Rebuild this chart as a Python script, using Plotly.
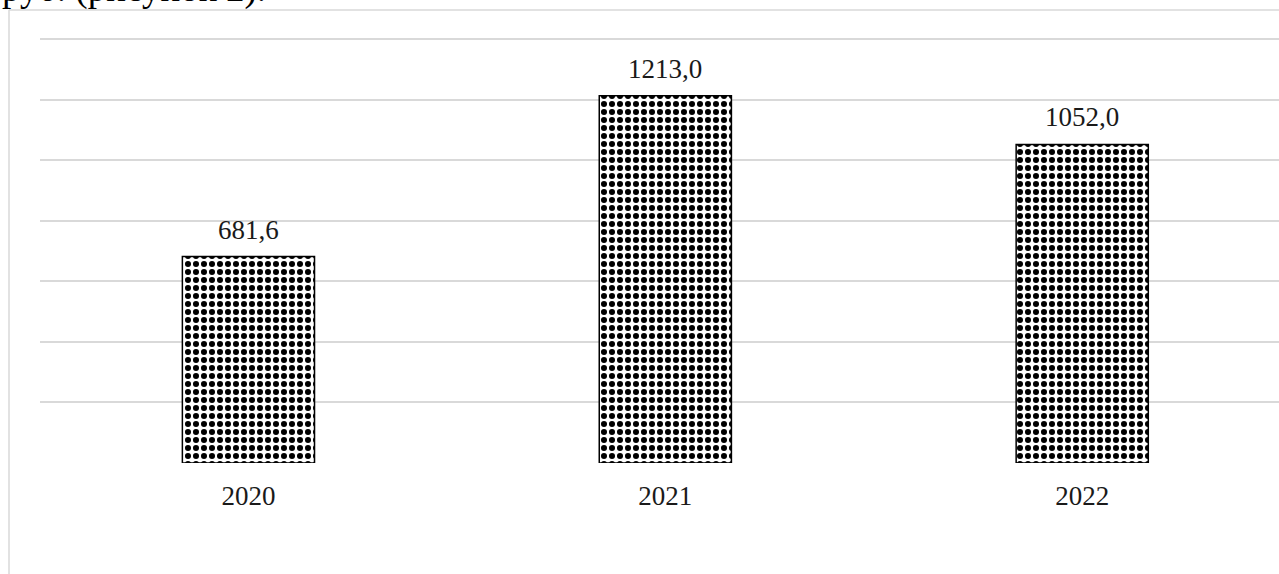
import plotly.graph_objects as go

years = ["2020", "2021", "2022"]
values = [681.6, 1213.0, 1052.0]
labels = ["681,6", "1213,0", "1052,0"]
y_ticks = [0, 200, 400, 600, 800, 1000, 1200, 1400]
y_max = 1410

W, H = 1279, 574
base_px = 463
px_per_unit = 424 / 1400
ml, mr = 40, 0
mb = H - base_px
mt = round(base_px - y_max * px_per_unit)
pw = W - ml - mr
ph = H - mt - mb

fig = go.Figure()
fig.add_trace(go.Bar(
    x=years, y=values, width=0.317,
    marker=dict(
        color="white",
        line=dict(color="black", width=1.5),
        pattern=dict(shape=".", fgcolor="black", bgcolor="white", fgopacity=1,
                     size=8, solidity=0.45, fillmode="replace"),
    ),
    hoverinfo="skip",
))

for i, (v, t) in enumerate(zip(values, labels)):
    fig.add_annotation(x=i, y=v, text=t, showarrow=False, yanchor="bottom", yshift=10,
                       font=dict(family="Liberation Serif", size=27, color="#1a1a1a"))

def px_x(p):
    return (p - ml) / pw

def px_y(p):
    return (H - mb - p) / ph

# container border
fig.add_shape(type="line", xref="paper", yref="paper", x0=px_x(9), x1=px_x(9), y0=px_y(10), y1=px_y(580),
              line=dict(color="#d9d9d9", width=1.5))
fig.add_shape(type="line", xref="paper", yref="paper", x0=px_x(9), x1=px_x(1290), y0=px_y(10), y1=px_y(10),
              line=dict(color="#d9d9d9", width=1.5))

fig.add_annotation(xref="paper", yref="paper", x=px_x(0), y=px_y(12), xanchor="left", yanchor="bottom",
                   text="руб. (рисунок 2).", showarrow=False,
                   font=dict(family="Liberation Serif", size=37, color="black"))

fig.update_layout(
    width=W, height=H,
    margin=dict(l=ml, r=mr, t=mt, b=mb),
    paper_bgcolor="white", plot_bgcolor="white",
    showlegend=False,
    font=dict(family="Liberation Serif", size=27, color="#1a1a1a"),
)
fig.update_xaxes(type="category", range=[-0.5, 2.472], showgrid=False, zeroline=False, showline=False,
                 ticks="", ticklabelstandoff=14, tickfont=dict(size=27))
fig.update_yaxes(range=[0, y_max], tickvals=y_ticks, showticklabels=False, showgrid=True,
                 gridcolor="#d9d9d9", gridwidth=1.5, zeroline=False, showline=False)

fig.write_html("out.html", config={"displayModeBar": False},
               post_script="document.body.style.margin='0';")
